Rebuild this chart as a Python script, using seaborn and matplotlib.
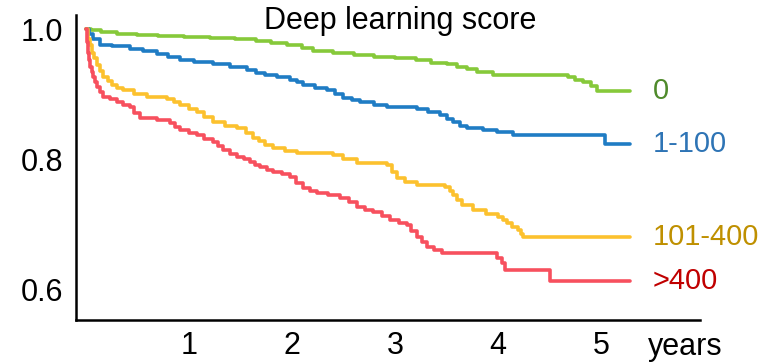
import matplotlib
matplotlib.use("Agg")
import matplotlib.pyplot as plt
import seaborn as sns
import pandas as pd

# Kaplan-Meier style survival steps per deep learning score group
groups = ["0", "1-100", "101-400", ">400"]

t_score0 = [0.00, 0.05, 0.15, 0.30, 0.50, 0.70, 0.95, 1.20, 1.45, 1.65, 1.80, 1.95, 2.10, 2.20,
            2.40, 2.60, 2.80, 3.00, 3.20, 3.35, 3.50, 3.60, 3.70, 3.80, 3.95, 4.68, 4.75, 4.83,
            4.90, 4.96, 5.28]
s_score0 = [1.000, 0.998, 0.995, 0.993, 0.991, 0.990, 0.988, 0.986, 0.984, 0.981, 0.978, 0.975,
            0.971, 0.966, 0.963, 0.960, 0.957, 0.955, 0.952, 0.948, 0.946, 0.942, 0.938, 0.934,
            0.930, 0.926, 0.922, 0.919, 0.913, 0.905, 0.905]

t_score1_100 = [0.00, 0.03, 0.07, 0.14, 0.25, 0.43, 0.55, 0.69, 0.80, 0.91, 1.05, 1.23, 1.40,
                1.56, 1.65, 1.74, 1.85, 1.98, 2.05, 2.11, 2.22, 2.34, 2.42, 2.50, 2.58, 2.66,
                2.80, 2.92, 3.21, 3.32, 3.44, 3.50, 3.56, 3.63, 3.70, 3.85, 3.99, 4.15, 5.04, 5.28]
s_score1_100 = [1.000, 0.993, 0.985, 0.976, 0.974, 0.970, 0.966, 0.962, 0.957, 0.952, 0.950,
                0.947, 0.942, 0.937, 0.933, 0.929, 0.926, 0.922, 0.918, 0.914, 0.910, 0.906,
                0.900, 0.894, 0.891, 0.888, 0.884, 0.880, 0.877, 0.873, 0.868, 0.862, 0.857,
                0.852, 0.848, 0.845, 0.842, 0.837, 0.824, 0.824]

t_score101_400 = [0.00, 0.02, 0.04, 0.06, 0.08, 0.11, 0.14, 0.17, 0.21, 0.25, 0.30, 0.36, 0.47,
                  0.59, 0.79, 0.85, 0.91, 1.00, 1.08, 1.15, 1.23, 1.35, 1.47, 1.55, 1.62, 1.68,
                  1.74, 1.82, 1.93, 2.05, 2.40, 2.50, 2.63, 2.92, 2.97, 3.02, 3.10, 3.21, 3.49,
                  3.53, 3.56, 3.60, 3.65, 3.76, 3.88, 4.00, 4.05, 4.09, 4.14, 4.19, 4.22, 4.24, 5.28]
s_score101_400 = [1.000, 0.985, 0.975, 0.963, 0.955, 0.945, 0.935, 0.926, 0.920, 0.914, 0.910,
                  0.906, 0.901, 0.896, 0.893, 0.888, 0.883, 0.878, 0.873, 0.865, 0.857, 0.852,
                  0.848, 0.840, 0.833, 0.828, 0.822, 0.817, 0.813, 0.810, 0.807, 0.801, 0.794,
                  0.791, 0.781, 0.771, 0.766, 0.761, 0.758, 0.751, 0.745, 0.738, 0.730, 0.722,
                  0.717, 0.712, 0.707, 0.702, 0.697, 0.692, 0.686, 0.681, 0.681]

t_score400 = [0.00, 0.01, 0.02, 0.03, 0.04, 0.055, 0.07, 0.09, 0.11, 0.14, 0.17, 0.23, 0.30,
              0.36, 0.43, 0.47, 0.52, 0.69, 0.82, 0.86, 0.91, 1.00, 1.08, 1.15, 1.23, 1.28,
              1.33, 1.40, 1.47, 1.53, 1.59, 1.64, 1.69, 1.76, 1.82, 1.90, 1.98, 2.04, 2.11,
              2.17, 2.24, 2.35, 2.47, 2.55, 2.63, 2.71, 2.79, 2.87, 2.95, 3.04, 3.12, 3.16,
              3.21, 3.26, 3.31, 3.38, 3.46, 3.99, 4.04, 4.07, 4.50, 5.28]
s_score400 = [1.000, 0.980, 0.963, 0.952, 0.942, 0.934, 0.926, 0.918, 0.911, 0.903, 0.896,
              0.892, 0.888, 0.884, 0.880, 0.871, 0.863, 0.860, 0.856, 0.850, 0.845, 0.841,
              0.837, 0.832, 0.827, 0.820, 0.814, 0.809, 0.804, 0.800, 0.796, 0.792, 0.788,
              0.784, 0.781, 0.777, 0.773, 0.764, 0.756, 0.752, 0.748, 0.745, 0.741, 0.734,
              0.727, 0.723, 0.719, 0.713, 0.707, 0.703, 0.699, 0.690, 0.681, 0.673, 0.666,
              0.661, 0.656, 0.649, 0.641, 0.630, 0.614, 0.614]

y_ticks = [0.6, 0.8, 1.0]
y_tick_labels = ["0.6", "0.8", "1.0"]
x_ticks = [1, 2, 3, 4, 5]
x_tick_labels = ["1", "2", "3", "4", "5"]

line_colors = ["#86c93a", "#1f7cc4", "#fcc12e", "#f7505e"]
label_colors = ["#4f8a2b", "#2e74b5", "#bf9000", "#c00000"]

series = [(t_score0, s_score0), (t_score1_100, s_score1_100),
          (t_score101_400, s_score101_400), (t_score400, s_score400)]
frames = []
for name, (t, s) in zip(groups, series):
    frames.append(pd.DataFrame({"years": t, "survival": s, "score": name}))
df = pd.concat(frames, ignore_index=True)

sns.set_style("white")
plt.rcParams["font.family"] = ["Liberation Sans", "DejaVu Sans"]

fig = plt.figure(figsize=(7.77, 3.64), dpi=100)
ax = fig.add_axes([0.0978, 0.1209, 0.8031, 0.8379])

sns.lineplot(data=df, x="years", y="survival", hue="score", hue_order=groups,
             palette=dict(zip(groups, line_colors)), drawstyle="steps-post",
             estimator=None, sort=False, linewidth=2.6, legend=False, ax=ax)

ax.set_xlim(-0.097, 5.961)
ax.set_ylim(0.5537, 1.0215)
ax.set_xticks(x_ticks)
ax.set_xticklabels(x_tick_labels)
ax.set_yticks(y_ticks)
ax.set_yticklabels(y_tick_labels)
ax.set_xlabel("")
ax.set_ylabel("")
ax.tick_params(axis="both", length=0, labelsize=22, colors="black")
ax.tick_params(axis="x", pad=8)
ax.tick_params(axis="y", pad=9)

for side in ["top", "right"]:
    ax.spines[side].set_visible(False)
for side in ["left", "bottom"]:
    ax.spines[side].set_color("black")
    ax.spines[side].set_linewidth(1.8)

# group labels at the end of each curve
for name, (t, s), c in zip(groups, series, label_colors):
    ax.text(5.50, s[-1], name, color=c, fontsize=21, ha="left", va="center")

fig.text(400 / 777, 1 - 29 / 364, "Deep learning score", ha="center", va="baseline",
         fontsize=22, color="black")
fig.text(648 / 777, 1 - 355 / 364, "years", ha="left", va="baseline",
         fontsize=22, color="black")

fig.savefig("out.png", dpi=100, facecolor="white")
